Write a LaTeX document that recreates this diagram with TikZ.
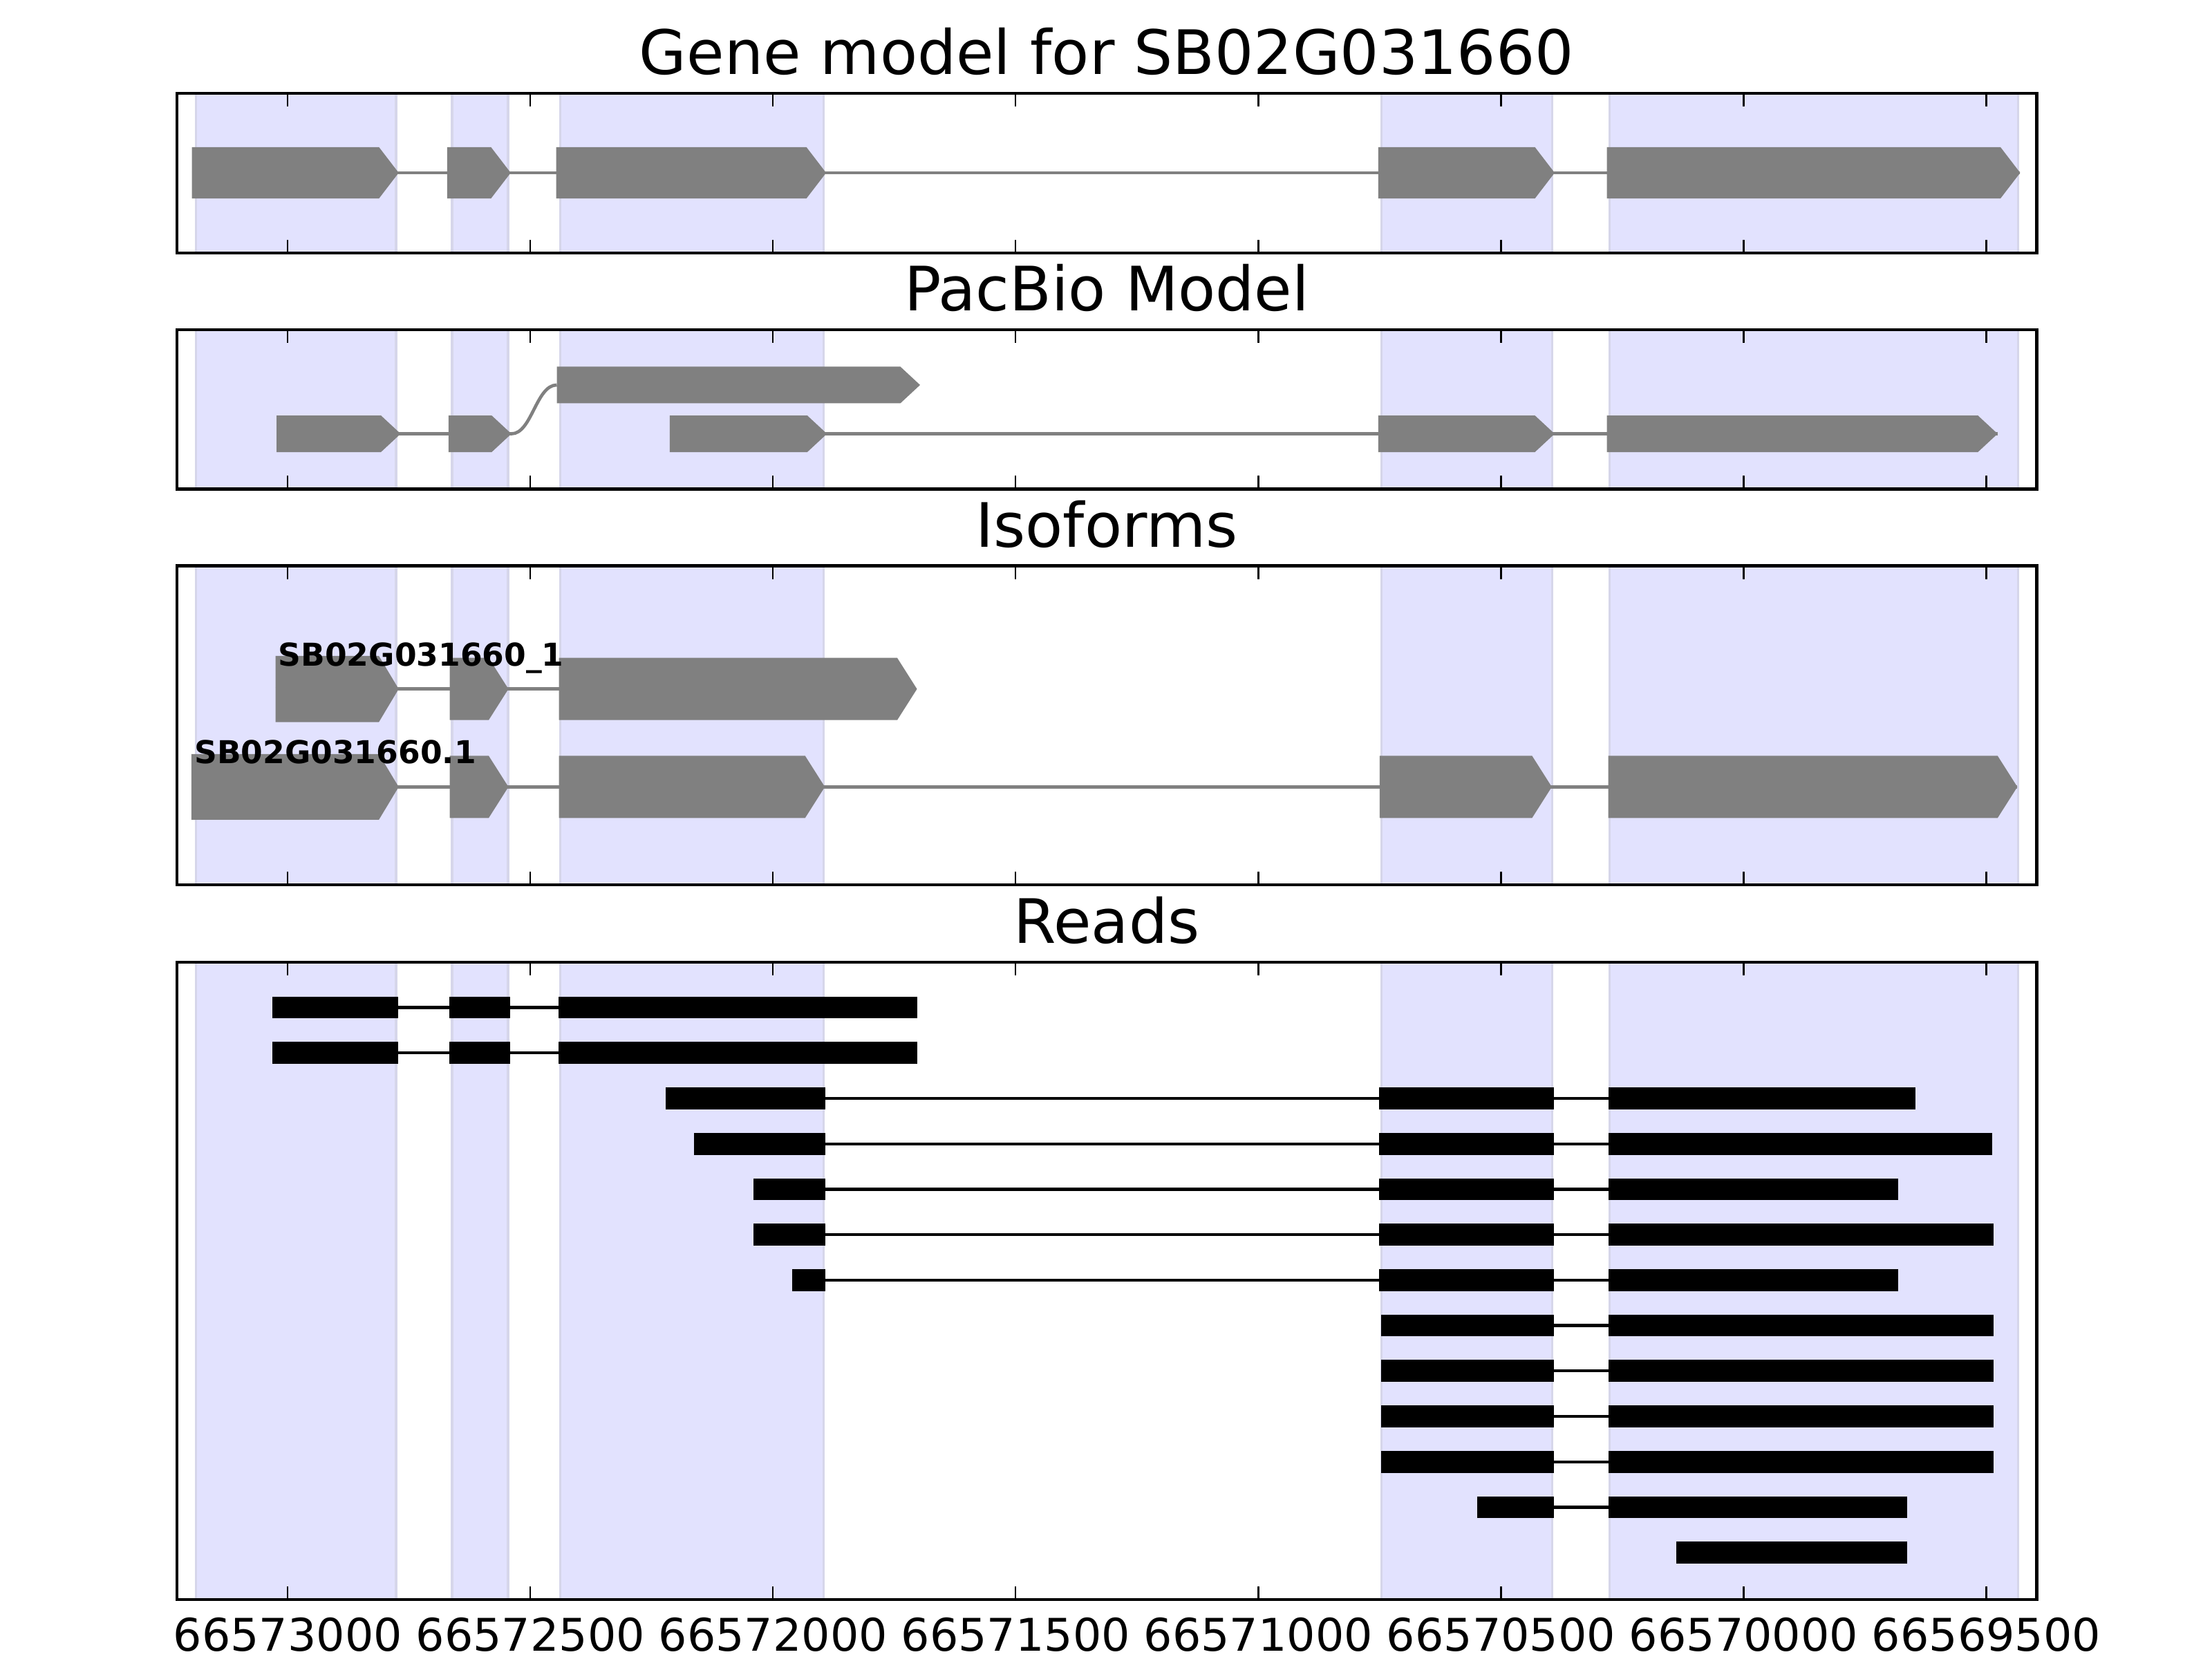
\documentclass[tikz,border=0pt]{standalone}
\usepackage{fontspec}
\setmainfont{DejaVu Sans}
\usepackage{tikz}
\usetikzlibrary{positioning}
\definecolor{exonband}{RGB}{226,226,254}
\definecolor{bandedge}{RGB}{214,214,234}
\definecolor{modelgrey}{RGB}{128,128,128}
\tikzset{
  band/.style={fill=exonband, draw=bandedge, line width=0.9pt},
  frame/.style={draw=black, line width=1.2pt},
  tickmark/.style={line width=0.6pt},
  intron/.style={draw=modelgrey, line width=1.3pt},
  readline/.style={draw=black, line width=1.2pt},
  ptitle/.style={font=\fontsize{24.7}{28}\selectfont, anchor=base, inner sep=0pt},
  ticklabel/.style={font=\fontsize{18.15}{21}\selectfont, anchor=base, inner sep=0pt},
  isolabel/.style={font=\fontsize{12.7}{15}\selectfont\bfseries, anchor=base west, inner sep=0pt},
}
% start, tip, centre, height
\newcommand{\genearrow}[4]{
\fill[modelgrey] (#1,{#3-#4/2}) -- ({#2-14},{#3-#4/2}) -- (#2,#3) -- ({#2-14},{#3+#4/2}) -- (#1,{#3+#4/2}) -- cycle;
}

\begin{document}
\begin{tikzpicture}[x=0.02cm,y=-0.02cm]
\useasboundingbox (0,0) rectangle (1568,1176);
\foreach \top/\bot in {66.2/179.3, 233.6/346.7, 401/627.2, 682.1/1133.8} {
\foreach \l/\r in {138.8/280.8, 320.4/360.2, 397.2/583.8, 979.3/1100.2, 1141/1430.4} {
\draw[band] (\l,\top) rectangle (\r,\bot);
}
\foreach \x in {204,376,...,1408} {
\draw[tickmark] (\x,\top) -- (\x,{\top+9.5});
\draw[tickmark] (\x,\bot) -- (\x,{\bot-9.5});
}
\draw[frame] (125.3,\top) rectangle (1443.8,\bot);
}
\node[ptitle] (genetitle) at (784.5,52.8) {Gene model for SB02G031660};
\node[ptitle] (pacbiotitle) at (784.5,220.2) {PacBio Model};
\node[ptitle] (isotitle) at (784.5,387.6) {Isoforms};
\node[ptitle] (readstitle) at (784.5,668.7) {Reads};
\foreach \x/\pos in {204/66573000, 376/66572500, 548/66572000, 720/66571500, 892/66571000, 1064/66570500, 1236/66570000, 1408/66569500} {
\node[ticklabel] (tick\x) at (\x,1170.3) {\pos};
}
% gene model
\draw[intron] (136,122.5) -- (1432,122.5);
\foreach \s/\e in {136/282.6, 317/362, 394.2/585.6, 977/1102, 1139/1432} {
\genearrow{\s}{\e}{122.5}{36.5}
}
% pacbio
\draw[intron] (196,307.5) -- (362.5,307.5) .. controls (377,307.5) and (380,272.9) .. (394.7,272.9);
\draw[intron] (474.7,307.5) -- (1416,307.5);
\foreach \s/\e in {196/284, 318/362.5, 474.7/586.2, 977/1102, 1139/1416} {
\genearrow{\s}{\e}{307.5}{26}
}
\genearrow{394.7}{652.2}{272.9}{26}
% isoforms
\draw[intron] (195.3,488.4) -- (396.2,488.4);
\genearrow{195.3}{282.6}{488.4}{46.8}
\foreach \s/\e in {318.8/360.4, 396.2/650} {
\genearrow{\s}{\e}{488.4}{44.1}
}
\draw[intron] (135.7,557.8) -- (1430,557.8);
\genearrow{135.7}{282.6}{557.8}{46.5}
\foreach \s/\e in {318.8/360.4, 396.2/584.7, 978/1100, 1140/1430} {
\genearrow{\s}{\e}{557.8}{44.1}
}
\node[isolabel] (iso1) at (197,472) {SB02G031660\_1};
\node[isolabel] (iso2) at (137.5,541.4) {SB02G031660.1};
% reads
\foreach \y/\s/\e/\parts in {
714.2/193.1/650.1/{193.1/282,318.3/361.5,396/650.1},
746.4/193.1/650.1/{193.1/282,318.3/361.5,396/650.1},
778.6/472/1358/{472/584.9,977.4/1101.3,1140/1358},
810.8/491.9/1412/{491.9/584.9,977.4/1101.3,1140/1412},
843.0/534.3/1345.5/{534.3/584.9,977.4/1101.3,1140/1345.5},
875.2/534.3/1413/{534.3/584.9,977.4/1101.3,1140/1413},
907.4/561.7/1345.5/{561.7/584.9,977.4/1101.3,1140/1345.5},
939.6/979/1413/{979/1101.3,1140/1413},
971.8/979/1413/{979/1101.3,1140/1413},
1004.0/979/1413/{979/1101.3,1140/1413},
1036.2/979/1413/{979/1101.3,1140/1413},
1068.4/1047/1352/{1047/1101.3,1140/1352},
1100.6/1188/1352/{1188/1352}} {
\draw[readline] (\s,\y) -- (\e,\y);
\foreach \p/\q in \parts {
\fill (\p,{\y-7.75}) rectangle (\q,{\y+7.75});
}
}
\end{tikzpicture}
\end{document}
